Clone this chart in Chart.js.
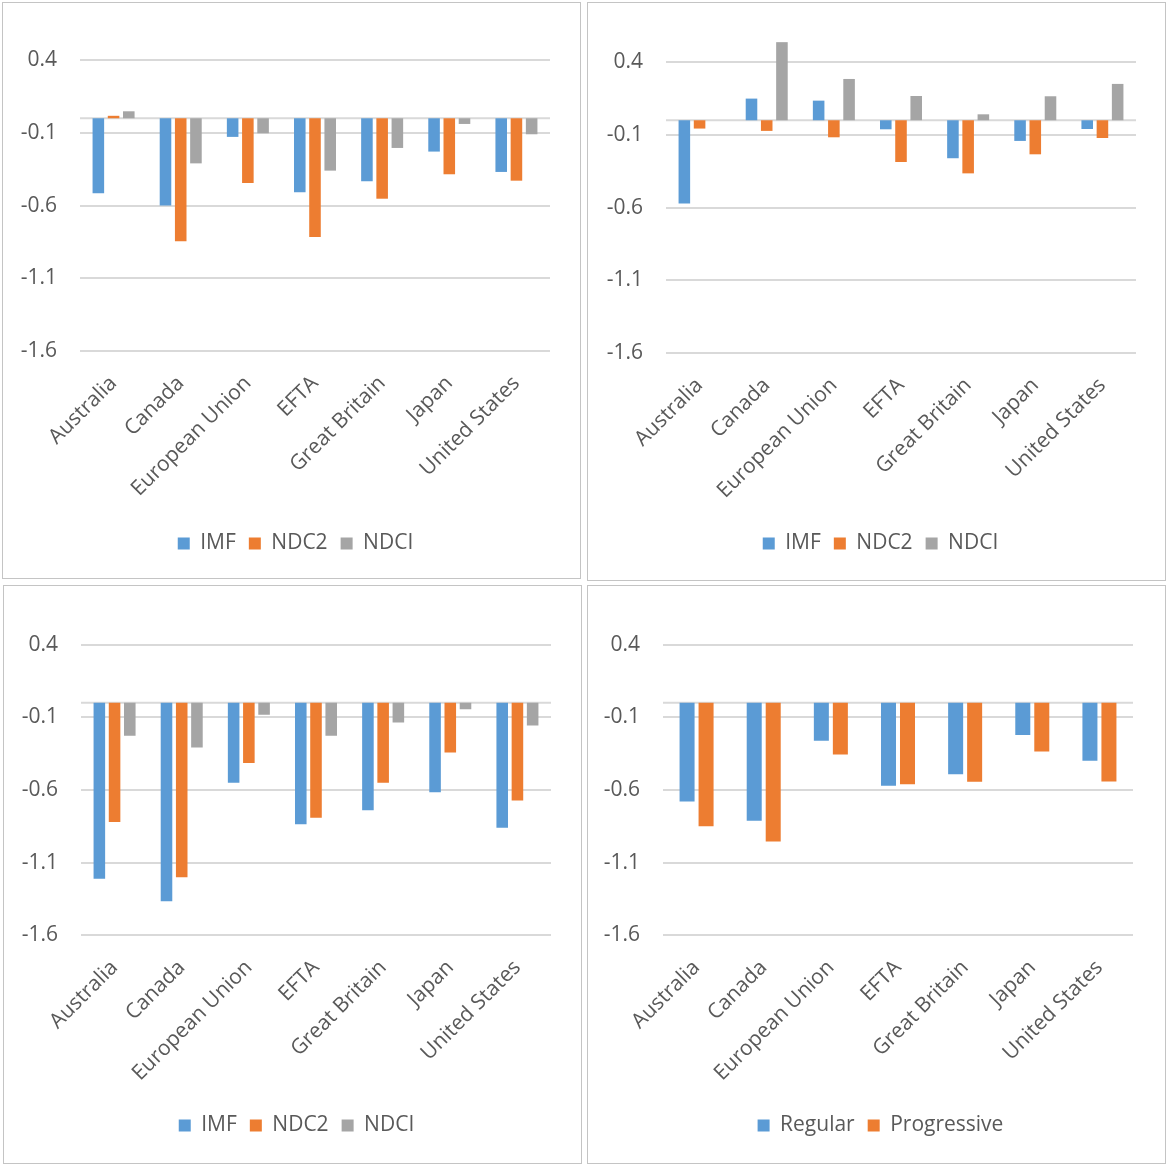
<!DOCTYPE html>
<html>
<head>
<meta charset="utf-8">
<script src="https://cdn.jsdelivr.net/npm/chart.js@4.4.1/dist/chart.umd.min.js"></script>
<style>
  html, body { margin: 0; padding: 0; background: #ffffff; }
  body { width: 1166px; height: 1164px; position: relative; overflow: hidden; }
  .panel { position: absolute; box-sizing: border-box; border: 1px solid #c4c4c4; background: #fff; }
  .panel canvas { display: block; }
</style>
</head>
<body>
<div class="panel" id="p1"><canvas id="c1"></canvas></div>
<div class="panel" id="p2"><canvas id="c2"></canvas></div>
<div class="panel" id="p3"><canvas id="c3"></canvas></div>
<div class="panel" id="p4"><canvas id="c4"></canvas></div>
<script>
// Categories shared by all four charts
const regions = ['Australia', 'Canada', 'European Union', 'EFTA', 'Great Britain', 'Japan', 'United States'];

// Value axis ticks
const yTicks = [-1.6, -1.1, -0.6, -0.1, 0.4];
const yTickLabels = ['-1.6', '-1.1', '-0.6', '-0.1', '0.4'];
const yMin = -1.6;
const yMax = 0.6;

// Chart 1 (top left)
const c1IMF  = [-0.516, -0.600, -0.128, -0.509, -0.433, -0.229, -0.369];
const c1NDC2 = [ 0.017, -0.846, -0.445, -0.817, -0.553, -0.385, -0.429];
const c1NDCI = [ 0.048, -0.310, -0.103, -0.360, -0.204, -0.039, -0.110];

// Chart 2 (top right)
const c2IMF  = [-0.573,  0.149,  0.135, -0.062, -0.261, -0.142, -0.060];
const c2NDC2 = [-0.057, -0.073, -0.117, -0.287, -0.365, -0.234, -0.122];
const c2NDCI = [ 0.000,  0.537,  0.284,  0.167,  0.041,  0.165,  0.250];

// Chart 3 (bottom left)
const c3IMF  = [-1.211, -1.365, -0.550, -0.835, -0.739, -0.615, -0.860];
const c3NDC2 = [-0.821, -1.200, -0.414, -0.791, -0.550, -0.342, -0.672];
const c3NDCI = [-0.227, -0.307, -0.082, -0.227, -0.135, -0.045, -0.157];

// Chart 4 (bottom right)
const c4Regular     = [-0.679, -0.812, -0.261, -0.571, -0.491, -0.222, -0.399];
const c4Progressive = [-0.849, -0.954, -0.356, -0.560, -0.544, -0.335, -0.541];

const BLUE = '#5B9BD5', ORANGE = '#ED7D31', GREY = '#A5A5A5';
const TEXT = '#595959', GRID = '#d9d9d9';
const FONT = { family: '"Open Sans", "Segoe UI", sans-serif', size: 21 };

// Horizontal line at zero, under the bars
const zeroLine = {
  id: 'zeroLine',
  beforeDatasetsDraw(chart) {
    const y = chart.scales.y.getPixelForValue(0);
    const { left, right } = chart.chartArea;
    const ctx = chart.ctx;
    ctx.save();
    ctx.strokeStyle = GRID;
    ctx.lineWidth = 2;
    ctx.beginPath();
    ctx.moveTo(left, y);
    ctx.lineTo(right, y);
    ctx.stroke();
    ctx.restore();
  }
};

function makePanel(n, box, area, series, catPct, barPct, padBottom) {
  const div = document.getElementById('p' + n);
  div.style.left = box.x + 'px';
  div.style.top = box.y + 'px';
  div.style.width = box.w + 'px';
  div.style.height = box.h + 'px';
  const cw = box.w - 2, ch = box.h - 2;
  const cx = box.x + 1, cy = box.y + 1;
  const canvas = document.getElementById('c' + n);
  canvas.width = cw;
  canvas.height = ch;
  canvas.style.width = cw + 'px';
  canvas.style.height = ch + 'px';

  const padLeft = 8;
  new Chart(canvas, {
    type: 'bar',
    data: {
      labels: regions,
      datasets: series.map(s => ({
        label: s.label,
        data: s.data,
        backgroundColor: s.color,
        borderWidth: 0,
        categoryPercentage: catPct,
        barPercentage: barPct
      }))
    },
    options: {
      responsive: false,
      animation: false,
      layout: {
        padding: { top: area.top - cy, right: 0, left: padLeft, bottom: padBottom }
      },
      scales: {
        x: {
          grid: { display: false },
          border: { display: false },
          ticks: {
            color: TEXT, font: FONT, autoSkip: false,
            maxRotation: 45, minRotation: 45, padding: 12
          },
          afterFit(scale) {
            const legendH = scale.chart.legend ? scale.chart.legend.height : 0;
            scale.height = (ch - padBottom - legendH) - (area.bottom - cy);
          }
        },
        y: {
          min: yMin,
          max: yMax,
          grid: { color: GRID, lineWidth: 2, drawTicks: true, tickLength: 23, tickColor: 'rgba(0,0,0,0)' },
          border: { display: false },
          afterBuildTicks(scale) {
            scale.ticks = yTicks.map(v => ({ value: v }));
          },
          ticks: {
            color: TEXT, font: FONT, padding: 0,
            callback(value, index) { return yTickLabels[index]; }
          },
          afterFit(scale) { scale.width = area.left - cx - padLeft; }
        },
        // empty right-hand gutter so the legend stays centred on the whole panel
        gutter: {
          type: 'linear',
          position: 'right',
          display: true,
          grid: { display: false },
          border: { display: false },
          ticks: { display: false },
          afterFit(scale) { scale.width = (cx + cw) - area.right; }
        }
      },
      plugins: {
        legend: {
          position: 'bottom',
          labels: { color: TEXT, font: FONT, boxWidth: 12, boxHeight: 12, padding: 13 }
        },
        tooltip: { enabled: false }
      }
    },
    plugins: [zeroLine]
  });
}

const three = (a, b, c) => [
  { label: 'IMF', data: a, color: BLUE },
  { label: 'NDC2', data: b, color: ORANGE },
  { label: 'NDCI', data: c, color: GREY }
];

makePanel(1, { x: 2, y: 2, w: 579, h: 577 }, { left: 80, right: 550, top: 31, bottom: 351 },
  three(c1IMF, c1NDC2, c1NDCI), 0.68, 0.76, 14);
makePanel(2, { x: 587, y: 2, w: 579, h: 579 }, { left: 666, right: 1136, top: 33, bottom: 353 },
  three(c2IMF, c2NDC2, c2NDCI), 0.68, 0.76, 16);
makePanel(3, { x: 3, y: 585, w: 579, h: 579 }, { left: 81, right: 551, top: 615.6, bottom: 935.3 },
  three(c3IMF, c3NDC2, c3NDCI), 0.68, 0.76, 17);
makePanel(4, { x: 587, y: 585, w: 579, h: 579 }, { left: 663, right: 1133, top: 615.6, bottom: 935.3 },
  [{ label: 'Regular', data: c4Regular, color: BLUE },
   { label: 'Progressive', data: c4Progressive, color: ORANGE }], 0.566, 0.79, 17);
</script>
</body>
</html>
